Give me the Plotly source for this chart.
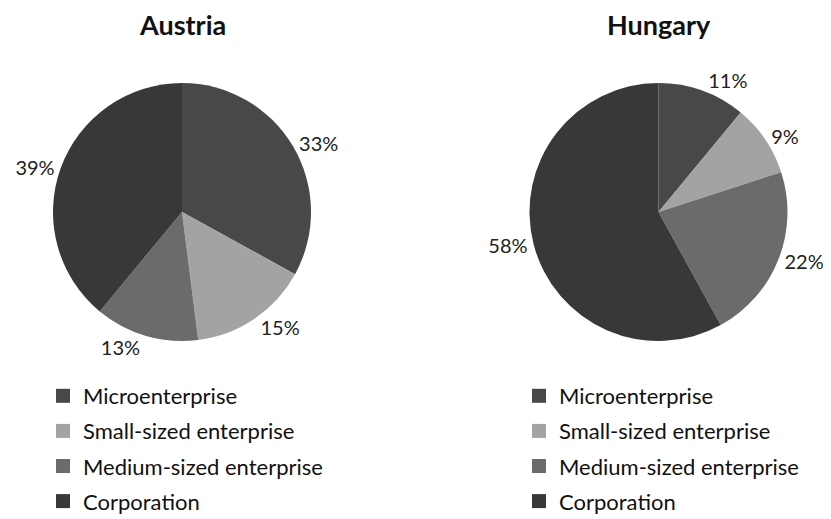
import plotly.graph_objects as go

categories = ["Microenterprise", "Small-sized enterprise", "Medium-sized enterprise", "Corporation"]
austria_values = [33, 15, 13, 39]
hungary_values = [11, 9, 22, 58]
countries = ["Austria", "Hungary"]
colors = ["#484848", "#a3a3a3", "#6b6b6b", "#383838"]

FONT = "Lato, Carlito, Calibri, sans-serif"

# figure size (page adds an 8px body margin around it)
W, H = 823, 511


def fx(p):
    return p / W


def fy(p):
    return 1 - p / H


fig = go.Figure()

domains_x = [[fx(44), fx(304)], [fx(521.5), fx(779.5)]]
domain_y = [fy(333), fy(75)]

for i, (name, vals) in enumerate(zip(countries, [austria_values, hungary_values])):
    fig.add_trace(go.Pie(
        labels=categories,
        values=vals,
        sort=False,
        direction="clockwise",
        rotation=0,
        marker=dict(colors=colors, line=dict(width=0)),
        textinfo="percent",
        texttemplate="%{percent:.0%}",
        textposition="outside",
        textfont=dict(family=FONT, size=20, color="#222222"),
        domain=dict(x=domains_x[i], y=domain_y),
        showlegend=False,
        hoverinfo="label+percent",
        name=name,
    ))

# legend entries (one per category, per chart)
for li, leg in enumerate(["legend", "legend2"]):
    for c, col in zip(categories, colors):
        fig.add_trace(go.Scatter(
            x=[None], y=[None], mode="markers", name=c,
            marker=dict(symbol="square", size=14, color=col),
            legend=leg, legendgroup=f"{leg}-{c}", showlegend=True,
        ))

legend_common = dict(
    font=dict(family=FONT, size=22, color="#111111"),
    bgcolor="rgba(0,0,0,0)",
    tracegroupgap=3.5,
    itemsizing="trace",
    yanchor="top",
    xanchor="left",
)

annotations = []
for i, name in enumerate(countries):
    annotations.append(dict(
        text=f"<b>{name}</b>", x=sum(domains_x[i]) / 2, y=fy(16),
        xref="paper", yref="paper", xanchor="center", yanchor="middle",
        showarrow=False,
        font=dict(family=FONT, size=27, color="#111111"),
    ))

fig.update_layout(
    width=W, height=H,
    margin=dict(l=0, r=0, t=0, b=0, autoexpand=False),
    paper_bgcolor="white", plot_bgcolor="white",
    xaxis=dict(visible=False), yaxis=dict(visible=False),
    legend=dict(x=fx(35), y=fy(367), **legend_common),
    legend2=dict(x=fx(511), y=fy(367), **legend_common),
    annotations=annotations,
)

fig.write_html("out.html")
